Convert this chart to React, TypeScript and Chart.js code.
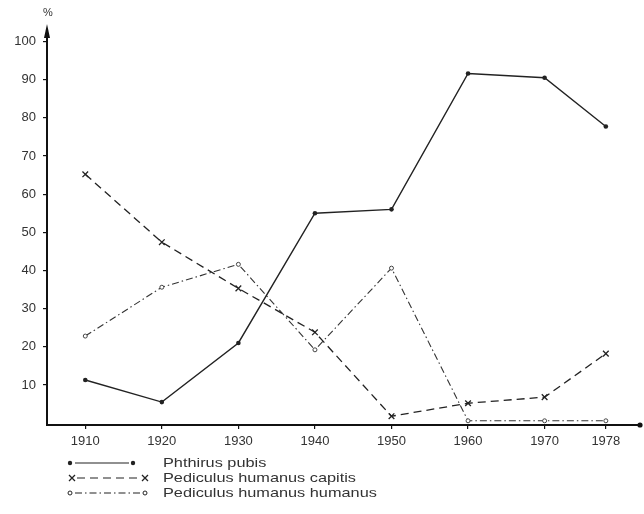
import React, { useEffect, useRef } from "react";
import { Chart, registerables } from "chart.js";

Chart.register(...registerables);

const years = [1910, 1920, 1930, 1940, 1950, 1960, 1970, 1978];
const xTickValues = [1910, 1920, 1930, 1940, 1950, 1960, 1970, 1978];
const yTickValues = [10, 20, 30, 40, 50, 60, 70, 80, 90, 100];

const seriesNames = ["Phthirus pubis", "Pediculus humanus capitis", "Pediculus humanus humanus"];
const phthirusPubis = [11.3, 5.5, 21, 55, 56, 91.6, 90.5, 77.7];
const pediculusCapitis = [65.2, 47.4, 35.3, 23.8, 1.8, 5.2, 6.8, 18.2];
const pediculusHumanus = [22.8, 35.6, 41.6, 19.2, 40.6, 0.6, 0.6, 0.6];

const INK = "#222";
const TEXT = "#333";
const FONT = "'Liberation Sans', Arial, sans-serif";

function drawMarker(ctx: CanvasRenderingContext2D, kind: number, x: number, y: number) {
  ctx.save();
  ctx.setLineDash([]);
  ctx.strokeStyle = INK;
  ctx.fillStyle = INK;
  if (kind === 0) {
    ctx.beginPath();
    ctx.arc(x, y, 2.2, 0, Math.PI * 2);
    ctx.fill();
  } else if (kind === 1) {
    ctx.lineWidth = 1.3;
    ctx.beginPath();
    ctx.moveTo(x - 3, y - 3);
    ctx.lineTo(x + 3, y + 3);
    ctx.moveTo(x + 3, y - 3);
    ctx.lineTo(x - 3, y + 3);
    ctx.stroke();
  } else {
    ctx.lineWidth = 1;
    ctx.fillStyle = "#fff";
    ctx.beginPath();
    ctx.arc(x, y, 2, 0, Math.PI * 2);
    ctx.fill();
    ctx.stroke();
  }
  ctx.restore();
}

const dashes: number[][] = [[], [8, 5], [7, 3, 1.5, 3]];

const decorPlugin = {
  id: "decor",
  afterDraw(chart: any) {
    const ctx: CanvasRenderingContext2D = chart.ctx;
    const area = chart.chartArea;
    ctx.save();
    // y-axis arrow
    ctx.fillStyle = "#111";
    ctx.beginPath();
    ctx.moveTo(area.left, area.top - 6);
    ctx.lineTo(area.left - 3, area.top + 8);
    ctx.lineTo(area.left + 3, area.top + 8);
    ctx.closePath();
    ctx.fill();
    // x-axis end dot
    ctx.beginPath();
    ctx.arc(area.right + 2, area.bottom, 2.6, 0, Math.PI * 2);
    ctx.fill();
    // % label
    ctx.fillStyle = TEXT;
    ctx.font = `11px ${FONT}`;
    ctx.textAlign = "center";
    ctx.textBaseline = "middle";
    ctx.fillText("%", area.left + 1, 13);

    // legend
    const rows = [
      { y: 463, x1: 70, x2: 133 },
      { y: 478, x1: 72, x2: 145 },
      { y: 493, x1: 70, x2: 145 },
    ];
    ctx.font = `13px ${FONT}`;
    const refW = ctx.measureText(seriesNames[1]).width;
    const sx = 193 / refW;
    rows.forEach((r, i) => {
      ctx.save();
      ctx.strokeStyle = INK;
      ctx.lineWidth = 1.2;
      ctx.setLineDash(dashes[i]);
      ctx.beginPath();
      ctx.moveTo(r.x1 + 5, r.y);
      ctx.lineTo(r.x2 - 4, r.y);
      ctx.stroke();
      ctx.restore();
      drawMarker(ctx, i, r.x1, r.y);
      drawMarker(ctx, i, r.x2, r.y);
      ctx.save();
      ctx.fillStyle = TEXT;
      ctx.font = `13px ${FONT}`;
      ctx.textAlign = "left";
      ctx.textBaseline = "middle";
      ctx.translate(163, r.y);
      ctx.scale(sx, 1);
      ctx.fillText(seriesNames[i], 0, 0);
      ctx.restore();
    });
    ctx.restore();
  },
};

export default function App() {
  const ref = useRef<HTMLCanvasElement | null>(null);
  useEffect(() => {
    document.body.style.margin = "0";
    const canvas = ref.current;
    if (!canvas) return;
    const mk = (vals: number[]) => years.map((x, i) => ({ x, y: vals[i] }));
    const chart = new Chart(canvas, {
      type: "line",
      data: {
        datasets: [
          {
            label: seriesNames[0],
            data: mk(phthirusPubis),
            borderColor: INK,
            backgroundColor: INK,
            borderWidth: 1.4,
            pointStyle: "circle",
            pointRadius: 2.3,
            pointBorderWidth: 0,
            pointBackgroundColor: INK,
            tension: 0,
          },
          {
            label: seriesNames[1],
            data: mk(pediculusCapitis),
            borderColor: INK,
            backgroundColor: INK,
            borderWidth: 1.3,
            borderDash: dashes[1],
            pointStyle: "crossRot",
            pointRadius: 4,
            pointBorderWidth: 1.3,
            pointBorderColor: INK,
            tension: 0,
          },
          {
            label: seriesNames[2],
            data: mk(pediculusHumanus),
            borderColor: "#333",
            backgroundColor: "#fff",
            borderWidth: 1.1,
            borderDash: dashes[2],
            pointStyle: "circle",
            pointRadius: 2,
            pointBorderWidth: 1,
            pointBorderColor: "#444",
            pointBackgroundColor: "#fff",
            tension: 0,
          },
        ],
      },
      options: {
        animation: false,
        responsive: false,
        maintainAspectRatio: false,
        layout: { padding: { top: 30, right: 6, left: 0, bottom: 0 } },
        plugins: { legend: { display: false }, tooltip: { enabled: false } },
        scales: {
          x: {
            type: "linear",
            min: 1905,
            max: 1982.2,
            afterBuildTicks: (s: any) => {
              s.ticks = xTickValues.map((v) => ({ value: v }));
            },
            afterFit: (s: any) => {
              s.height = 89;
            },
            border: { color: "#111", width: 2 },
            grid: { drawOnChartArea: false, drawTicks: true, tickLength: 4, color: "#111", lineWidth: 1.2 },
            ticks: {
              color: TEXT,
              font: { family: FONT, size: 13 },
              padding: 5,
              autoSkip: false,
              maxRotation: 0,
              callback: (v: any) => String(v),
            },
          },
          y: {
            type: "linear",
            min: -0.5,
            max: 103,
            afterBuildTicks: (s: any) => {
              s.ticks = yTickValues.map((v) => ({ value: v }));
            },
            afterFit: (s: any) => {
              s.width = 47;
            },
            border: { color: "#111", width: 2 },
            grid: { drawOnChartArea: false, drawTicks: true, tickLength: 4, color: "#111", lineWidth: 1.2 },
            ticks: {
              color: TEXT,
              font: { family: FONT, size: 13 },
              padding: 7,
              callback: (v: any) => String(v),
            },
          },
        },
      },
      plugins: [decorPlugin],
    } as any);
    return () => chart.destroy();
  }, []);
  return (
    <div style={{ width: 644, height: 514, position: "relative", background: "#fff" }}>
      <canvas ref={ref} width={644} height={514} style={{ display: "block" }} />
    </div>
  );
}
